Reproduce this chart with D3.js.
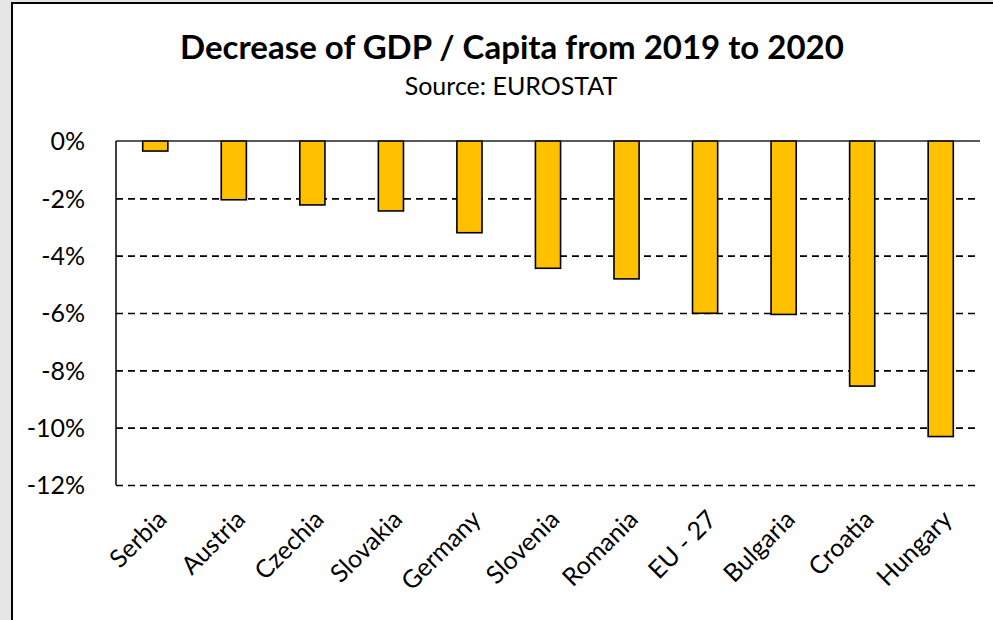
<!DOCTYPE html>
<meta charset="utf-8" />
<head>
  <style>
    body { margin: 0; background: #e6e6e6; }
    svg text { font-family: Lato, "Open Sans", sans-serif; }
    .grid line { stroke: #000; stroke-dasharray: 7 5; stroke-width: 1.6; }
    .grid .domain { display: none; }
    .yaxis .domain, .yaxis line { display: none; }
    .yaxis text { font-size: 25px; fill: #000; }
    .xlab { font-size: 25px; fill: #000; }
  </style>
</head>
<script src="https://d3js.org/d3.v7.min.js"></script>
<body>
  <svg id="chart" width="993" height="620"></svg>
  <script>
    // data (percent change, 2019 -> 2020)
    const countries = ["Serbia", "Austria", "Czechia", "Slovakia", "Germany", "Slovenia",
      "Romania", "EU - 27", "Bulgaria", "Croatia", "Hungary"];
    const decrease = [-0.35, -2.05, -2.23, -2.44, -3.2, -4.44, -4.81, -6.01, -6.05, -8.55, -10.31];
    const yTicks = [0, -2, -4, -6, -8, -10, -12];

    const svgWidth = 993, svgHeight = 620;
    const margin = { left: 116, right: 13, top: 141, bottom: 135 };
    const width = svgWidth - margin.left - margin.right;
    const height = svgHeight - margin.top - margin.bottom;

    const svg = d3.select("#chart");

    // chart card with border, running off the right/bottom edge
    svg.append("rect")
      .attr("x", 12).attr("y", 3)
      .attr("width", 1000).attr("height", 640)
      .attr("fill", "#fff")
      .attr("stroke", "#000")
      .attr("stroke-width", 2);

    // titles
    svg.append("text")
      .attr("x", 512).attr("y", 59)
      .attr("text-anchor", "middle")
      .attr("font-size", "33px")
      .attr("font-weight", 700)
      .text("Decrease of GDP / Capita from 2019 to 2020");

    svg.append("text")
      .attr("x", 511).attr("y", 95)
      .attr("text-anchor", "middle")
      .attr("font-size", "25px")
      .text("Source: EUROSTAT");

    const g = svg.append("g")
      .attr("transform", `translate(${margin.left},${margin.top})`);

    const x = d3.scaleBand().domain(countries).range([0, width]).paddingInner(0.68).paddingOuter(0.34);
    const y = d3.scaleLinear().domain([0, -12]).range([0, height]);

    // dashed gridlines
    g.append("g")
      .attr("class", "grid")
      .call(d3.axisLeft(y).tickValues(yTicks.slice(1)).tickSize(-width).tickFormat(""));

    // y tick labels
    g.append("g")
      .attr("class", "yaxis")
      .attr("transform", "translate(-28,0)")
      .call(d3.axisLeft(y).tickValues(yTicks).tickSize(0).tickFormat(d => d + "%"))
      .selectAll("text").attr("dy", "0.35em");

    // bars
    g.selectAll("rect.bar")
      .data(countries)
      .join("rect")
      .attr("class", "bar")
      .attr("x", d => x(d))
      .attr("y", y(0))
      .attr("width", x.bandwidth())
      .attr("height", (d, i) => y(decrease[i]) - y(0))
      .attr("fill", "#ffc000")
      .attr("stroke", "#000")
      .attr("stroke-width", 1.6);

    // zero line and left axis line
    g.append("line")
      .attr("x1", 0).attr("x2", width)
      .attr("y1", y(0)).attr("y2", y(0))
      .attr("stroke", "#222").attr("stroke-width", 1.5);
    g.append("line")
      .attr("x1", 0).attr("x2", 0)
      .attr("y1", y(0)).attr("y2", y(-12))
      .attr("stroke", "#000").attr("stroke-width", 1.5);

    // rotated category labels
    g.selectAll("text.xlab")
      .data(countries)
      .join("text")
      .attr("class", "xlab")
      .attr("text-anchor", "end")
      .attr("transform", d => `translate(${x(d) + x.bandwidth() / 2 + 13},${height + 36}) rotate(-45)`)
      .text(d => d);
  </script>
</body>
